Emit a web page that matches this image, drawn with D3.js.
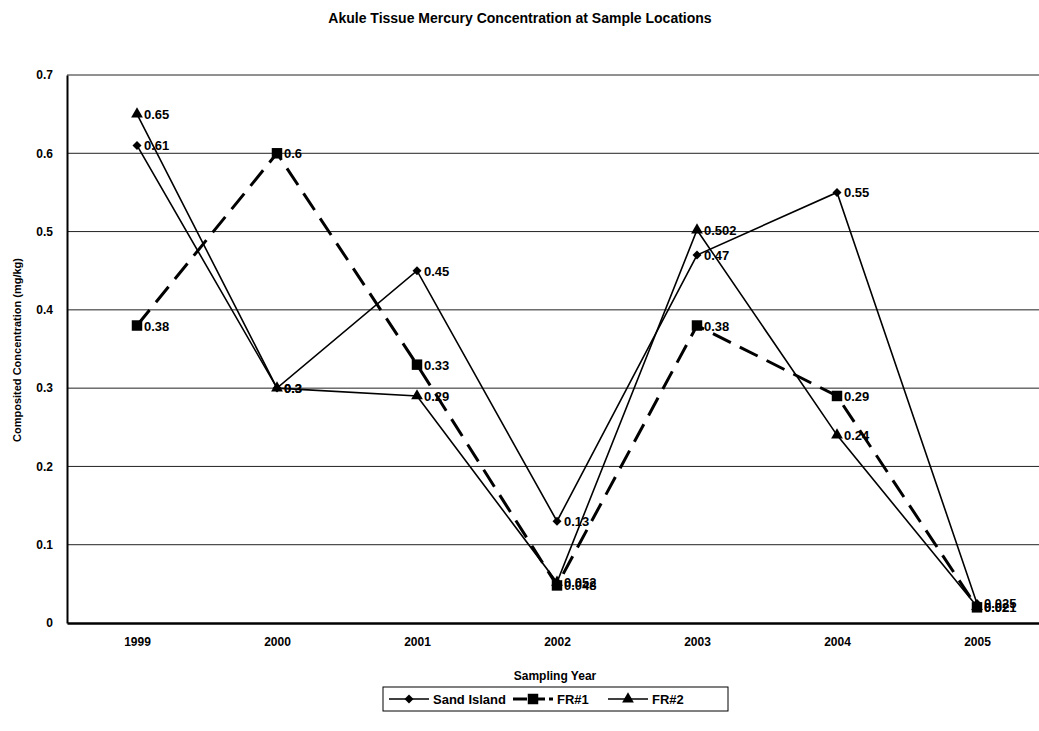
<!DOCTYPE html>
<html>
<head>
<meta charset="utf-8">
<script src="https://cdn.jsdelivr.net/npm/d3@7"></script>
<style>
  body { margin: 0; background: #fff; }
  text { font-family: "Liberation Sans", Arial, sans-serif; }
</style>
</head>
<body>
<div id="vis"></div>
<script>
var years = ['1999', '2000', '2001', '2002', '2003', '2004', '2005'];
var sandIsland = [0.61, 0.3, 0.45, 0.13, 0.47, 0.55, 0.025];
var fr1 = [0.38, 0.6, 0.33, 0.048, 0.38, 0.29, 0.02];
var fr2 = [0.65, 0.3, 0.29, 0.052, 0.502, 0.24, 0.021];
var yTicks = [0, 0.1, 0.2, 0.3, 0.4, 0.5, 0.6, 0.7];

var width = 1039,
    height = 731,
    plotLeft = 67,
    plotRight = 1047,
    plotTop = 75,
    plotBottom = 623;

var svg = d3.select('#vis')
  .append('svg')
    .attr('width', width)
    .attr('height', height);

var xScale = d3.scalePoint()
  .domain(years)
  .range([plotLeft, plotRight])
  .padding(0.5);

var yScale = d3.scaleLinear()
  .domain([0, 0.7])
  .range([plotBottom, plotTop]);

// title
svg.append('text')
  .attr('x', 520)
  .attr('y', 23)
  .attr('text-anchor', 'middle')
  .style('font-size', '14px')
  .style('font-weight', 'bold')
  .text('Akule Tissue Mercury Concentration at Sample Locations');

// grid lines
svg.selectAll('line.grid')
  .data(yTicks.filter(function(d) { return d > 0; }))
  .enter()
  .append('line')
    .attr('class', 'grid')
    .attr('x1', plotLeft)
    .attr('x2', plotRight)
    .attr('y1', function(d) { return yScale(d); })
    .attr('y2', function(d) { return yScale(d); })
    .attr('stroke', '#222')
    .attr('stroke-width', 1);

// y axis
var yAxis = d3.axisLeft(yScale)
  .tickValues(yTicks)
  .tickFormat(function(d) { return d; })
  .tickSize(0)
  .tickPadding(14);

var yG = svg.append('g')
  .attr('transform', 'translate(' + plotLeft + ',0)')
  .call(yAxis);
yG.select('.domain').attr('stroke', '#000').attr('stroke-width', 2);
yG.selectAll('text')
  .style('font-size', '12px')
  .style('font-weight', 'bold')
  .style('font-family', '"Liberation Sans", Arial, sans-serif');

// x axis
var xAxis = d3.axisBottom(xScale)
  .tickSize(0)
  .tickPadding(14);

var xG = svg.append('g')
  .attr('transform', 'translate(0,' + plotBottom + ')')
  .call(xAxis);
xG.select('.domain').attr('stroke', '#000').attr('stroke-width', 2.5);
xG.selectAll('text')
  .style('font-size', '12px')
  .style('font-weight', 'bold')
  .style('font-family', '"Liberation Sans", Arial, sans-serif');

// axis titles
svg.append('text')
  .attr('x', 555)
  .attr('y', 680)
  .attr('text-anchor', 'middle')
  .style('font-size', '12px')
  .style('font-weight', 'bold')
  .text('Sampling Year');

svg.append('text')
  .attr('transform', 'translate(21,350) rotate(-90)')
  .attr('text-anchor', 'middle')
  .style('font-size', '11px')
  .style('font-weight', 'bold')
  .text('Composited Concentration (mg/kg)');

// diamond = square turned 45 degrees
var series = [
  { name: 'Sand Island', values: sandIsland, symbol: d3.symbolSquare, size: 40, rot: 45, dash: null, sw: 1.6 },
  { name: 'FR#1', values: fr1, symbol: d3.symbolSquare, size: 110, rot: 0, dash: '20,10', sw: 3 },
  { name: 'FR#2', values: fr2, symbol: d3.symbolTriangle, size: 60, rot: 0, dash: null, sw: 1.6 }
];

var line = d3.line()
  .x(function(d, i) { return xScale(years[i]); })
  .y(function(d) { return yScale(d); });

series.forEach(function(s) {
  svg.append('path')
    .datum(s.values)
    .attr('d', line)
    .attr('fill', 'none')
    .attr('stroke', '#000')
    .attr('stroke-width', s.sw)
    .attr('stroke-dasharray', s.dash);

  svg.selectAll(null)
    .data(s.values)
    .enter()
    .append('path')
      .attr('d', d3.symbol().type(s.symbol).size(s.size))
      .attr('transform', function(d, i) {
        return 'translate(' + xScale(years[i]) + ',' + yScale(d) + ') rotate(' + s.rot + ')';
      })
      .attr('fill', '#000');

  svg.selectAll(null)
    .data(s.values)
    .enter()
    .append('text')
      .attr('x', function(d, i) { return xScale(years[i]) + 7; })
      .attr('y', function(d) { return yScale(d) + 5; })
      .style('font-size', '13px')
      .style('font-weight', 'bold')
      .text(function(d) { return d; });
});

// legend
var legend = svg.append('g').attr('transform', 'translate(383,687)');
legend.append('rect')
  .attr('width', 345)
  .attr('height', 24)
  .attr('fill', '#fff')
  .attr('stroke', '#000')
  .attr('stroke-width', 1);

var legX = [6, 130, 225];
series.forEach(function(s, i) {
  var g = legend.append('g').attr('transform', 'translate(' + legX[i] + ',12)');
  g.append('line')
    .attr('x1', 0).attr('x2', 40)
    .attr('stroke', '#000')
    .attr('stroke-width', s.sw)
    .attr('stroke-dasharray', s.dash ? '14,4' : null);
  g.append('path')
    .attr('d', d3.symbol().type(s.symbol).size(s.size))
    .attr('transform', 'translate(20,0) rotate(' + s.rot + ')')
    .attr('fill', '#000');
  g.append('text')
    .attr('x', 44)
    .attr('y', 5)
    .style('font-size', '13px')
    .style('font-weight', 'bold')
    .text(s.name);
});
</script>
</body>
</html>
